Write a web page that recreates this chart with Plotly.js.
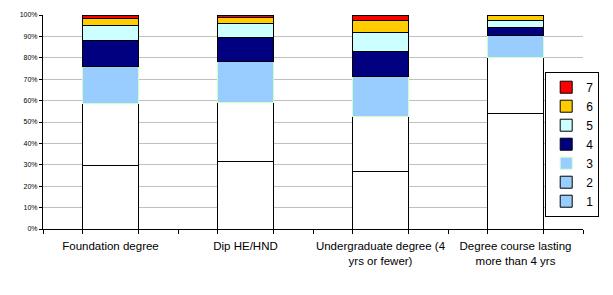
<!DOCTYPE html>
<html>
<head>
<meta charset="utf-8">
<script src="https://cdn.plot.ly/plotly-3.0.1.min.js"></script>
<style>html,body{margin:0;padding:0;background:#fff;}#chart{width:613px;height:295px;}</style>
</head>
<body>
<div id="chart"></div>
<script>
const categories = ["Foundation degree", "Dip HE/HND", "Undergraduate degree (4<br>yrs or fewer)", "Degree course lasting<br>more than 4 yrs"];
const seriesNames = ["1", "2", "3", "4", "5", "6", "7"];
const s1 = [29.8, 31.7, 27.0, 54.1];
const s2 = [28.9, 27.5, 25.7, 26.0];
const s3 = [17.1, 18.9, 18.4, 10.1];
const s4 = [12.3, 11.4, 11.8, 3.9];
const s5 = [7.0, 6.5, 8.9, 3.1];
const s6 = [3.2, 2.8, 5.6, 2.8];
const s7 = [1.7, 1.2, 2.6, 0.0];
const seriesValues = [s1, s2, s3, s4, s5, s6, s7];
const fillColors = ["#FFFFFF", "#FFFFFF", "#99CCFF", "#000080", "#CCFFFF", "#FFCC00", "#FF0000"];
const legendColors = ["#99CCFF", "#99CCFF", "#99CCFF", "#000080", "#CCFFFF", "#FFCC00", "#FF0000"];
const lineColors = ["#000000", "#000000", "#CCFFCC", "#000000", "#000000", "#000000", "#000000"];

const barGap = 0.59;
const traces = [];
seriesValues.forEach((vals, i) => {
  const differs = fillColors[i] !== legendColors[i];
  traces.push({
    type: "bar", x: categories, y: vals, name: seriesNames[i],
    showlegend: !differs,
    marker: {color: fillColors[i], line: {color: lineColors[i], width: 1}},
    hoverinfo: "none"
  });
  if (differs) {
    traces.push({
      type: "bar", x: categories, y: vals.map(() => null), name: seriesNames[i],
      showlegend: true,
      marker: {color: legendColors[i], line: {color: lineColors[i], width: 1}},
      hoverinfo: "none"
    });
  }
});
// invisible trace on overlay axis to carry bar-edge tick marks
const barWidth = 1 - barGap;
const edgeTicks = [];
categories.forEach((c, i) => { edgeTicks.push(i - barWidth / 2, i + barWidth / 2); });
traces.push({type: "scatter", x: [-0.5, categories.length - 0.5], y: [0, 0], xaxis: "x2", mode: "none", showlegend: false, hoverinfo: "none"});

const yTicks = [0,10,20,30,40,50,60,70,80,90,100];
const layout = {
  width: 613, height: 295,
  margin: {l: 43, r: 30, t: 15, b: 66, pad: 0},
  paper_bgcolor: "#FFFFFF", plot_bgcolor: "#FFFFFF",
  barmode: "stack", bargap: barGap,
  font: {family: "Liberation Sans, Arial, sans-serif", color: "#000000"},
  xaxis: {
    type: "category", showline: true, linecolor: "#000000", linewidth: 1,
    ticks: "outside", tickson: "boundaries", ticklen: 4, tickcolor: "#000000",
    showgrid: false, zeroline: false, ticklabelstandoff: 6, tickangle: 0,
    tickfont: {size: 11.5, family: "Liberation Sans, Arial, sans-serif"},
    range: [-0.5, categories.length - 0.5], fixedrange: true
  },
  xaxis2: {
    overlaying: "x", range: [-0.5, categories.length - 0.5],
    tickmode: "array", tickvals: edgeTicks, showticklabels: false,
    ticks: "outside", ticklen: 4, tickcolor: "#000000",
    showgrid: false, zeroline: false, showline: false
  },
  yaxis: {
    range: [0, 100], tickmode: "array", tickvals: yTicks,
    ticktext: yTicks.map(v => v + "%"),
    showline: true, linecolor: "#000000", linewidth: 1,
    ticks: "outside", ticklen: 3, tickcolor: "#000000",
    showgrid: true, gridcolor: "#C0C0C0", gridwidth: 1, zeroline: false,
    tickfont: {size: 7, family: "Liberation Sans, Arial, sans-serif"}
  },
  legend: {
    x: 0.93, y: 0.735, xanchor: "left", yanchor: "top",
    bordercolor: "#000000", borderwidth: 1, bgcolor: "#FFFFFF",
    font: {size: 12, family: "Liberation Sans, Arial, sans-serif"},
    traceorder: "reversed", tracegroupgap: 0
  },
  showlegend: true
};
Plotly.newPlot("chart", traces, layout, {staticPlot: true, displayModeBar: false});
</script>
</body>
</html>
